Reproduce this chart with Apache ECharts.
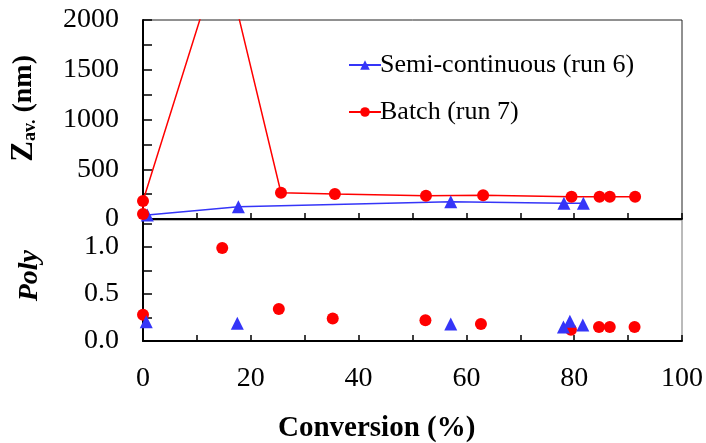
<!DOCTYPE html>
<html><head><meta charset="utf-8">
<script src="https://cdn.jsdelivr.net/npm/echarts@6/dist/echarts.min.js"></script>
<style>html,body{margin:0;padding:0;background:#fff}#c{width:706px;height:443px}</style>
</head><body><div id="c"></div>
<script>
// Top panel: average particle size Z_av (nm) vs conversion (%)
const semiZX = [0.8, 17.7, 57.1, 78.1, 81.7];
const semiZ  = [40, 124, 174, 158, 158];
const batchZX = [0, 0, 14.7, 25.6, 35.6, 52.5, 63.1, 79.5, 84.7, 86.6, 91.3];
const batchZ  = [50, 181, 2720, 264, 251, 234, 238, 224, 224, 224, 224];
// Bottom panel: polydispersity vs conversion (%)
const semiPolyX = [0.6, 17.5, 57.1, 78.0, 79.2, 81.6];
const semiPoly  = [0.205, 0.19, 0.18, 0.15, 0.21, 0.17];
const batchPolyX = [0, 14.7, 25.2, 35.2, 52.4, 62.7, 79.4, 84.6, 86.6, 91.2];
const batchPoly  = [0.28, 0.99, 0.34, 0.24, 0.22, 0.18, 0.12, 0.15, 0.15, 0.15];
const zTicks = [0, 500, 1000, 1500, 2000];
const polyTicks = [0.0, 0.5, 1.0];
const xTicks = [0, 20, 40, 60, 80, 100];
const seriesNames = ['Semi-continuous (run 6)', 'Batch (run 7)'];

const zip = (a, b) => a.map((v, i) => [v, b[i]]);
const FONT = 'Liberation Serif';
const BLUE = '#3535f8', RED = '#ff0000';

const chart = echarts.init(document.getElementById('c'), null, {renderer: 'canvas'});
const axisLbl = {fontFamily: FONT, fontSize: 28, color: '#000'};
chart.setOption({
  animation: false,
  backgroundColor: '#fff',
  grid: [
    {left: 143, right: 24, top: 20, height: 199, show: true, borderColor: '#222', borderWidth: 1, backgroundColor: 'transparent'},
    {left: 143, right: 24, top: 220, height: 121, show: true, borderColor: '#777', borderWidth: 1, backgroundColor: 'transparent'}
  ],
  xAxis: [
    {gridIndex: 0, type: 'value', min: 0, max: 100, interval: 10,
     axisLine: {lineStyle: {color: '#000', width: 2}},
     axisTick: {inside: true, length: 6, lineStyle: {color: '#000', width: 1.5}},
     axisLabel: {show: false}, splitLine: {show: false}},
    {gridIndex: 1, type: 'value', min: 0, max: 100, interval: 10,
     axisLine: {lineStyle: {color: '#000', width: 2}},
     axisTick: {inside: true, length: 6, lineStyle: {color: '#000', width: 1.5}},
     axisLabel: Object.assign({margin: 24, formatter: v => xTicks.includes(v) ? String(v) : ''}, axisLbl),
     splitLine: {show: false}}
  ],
  yAxis: [
    {gridIndex: 0, type: 'value', min: 0, max: 2000, interval: 250,
     axisLine: {lineStyle: {color: '#000', width: 2}},
     axisTick: {inside: true, length: 9, lineStyle: {color: '#000', width: 1.5}},
     axisLabel: Object.assign({margin: 24, formatter: v => zTicks.includes(v) ? String(v) : ''}, axisLbl),
     splitLine: {show: false}},
    {gridIndex: 1, type: 'value', min: 0, max: 1.287, interval: 0.25,
     axisLine: {lineStyle: {color: '#000', width: 2}},
     axisTick: {inside: true, length: 9, lineStyle: {color: '#000', width: 1.5}},
     axisLabel: Object.assign({margin: 24, formatter: v => {
       const m = polyTicks.find(t => Math.abs(t - v) < 1e-6);
       return m === undefined ? '' : m.toFixed(1);
     }}, axisLbl),
     splitLine: {show: false}}
  ],
  legend: {
    data: seriesNames, orient: 'vertical', left: 343, top: 47, itemGap: 21,
    itemWidth: 32, itemHeight: 12,
    textStyle: {fontFamily: FONT, fontSize: 26, color: '#000', padding: [0, 0, 0, -6]}
  },
  graphic: [
    {type: 'text', left: 8, top: 55, rotation: Math.PI / 2,
     style: {text: '{z|Z}{b|av.}{a| (nm)}', fill: '#000',
       rich: {z: {fontFamily: FONT, fontSize: 31, fontWeight: 'bold'},
              a: {fontFamily: FONT, fontSize: 28, fontWeight: 'bold'},
              b: {fontFamily: FONT, fontSize: 18, fontWeight: 'bold', verticalAlign: 'bottom', padding: [14, 0, 0, 0]}}}},
    {type: 'text', left: 16, top: 250, rotation: Math.PI / 2,
     style: {text: 'Poly', fill: '#000', fontFamily: FONT, fontSize: 28, fontWeight: 'bold', fontStyle: 'italic'}},
    {type: 'text', left: 278, top: 414,
     style: {text: 'Conversion (%)', fill: '#000', fontFamily: FONT, fontSize: 29, fontWeight: 'bold'}}
  ],
  series: [
    {name: seriesNames[0], type: 'line', xAxisIndex: 0, yAxisIndex: 0, data: zip(semiZX, semiZ),
     symbol: 'triangle', symbolSize: 13, color: BLUE, lineStyle: {width: 1.5, color: BLUE}, itemStyle: {color: BLUE}},
    {name: seriesNames[1], type: 'line', xAxisIndex: 0, yAxisIndex: 0, data: zip(batchZX, batchZ),
     symbol: 'circle', symbolSize: 12, color: RED, lineStyle: {width: 1.5, color: RED}, itemStyle: {color: RED}},
    {name: seriesNames[1], type: 'scatter', xAxisIndex: 1, yAxisIndex: 1, data: zip(batchPolyX, batchPoly),
     symbol: 'circle', symbolSize: 12, itemStyle: {color: RED, opacity: 1}},
    {name: seriesNames[0], type: 'scatter', xAxisIndex: 1, yAxisIndex: 1, data: zip(semiPolyX, semiPoly),
     symbol: 'triangle', symbolSize: 13, itemStyle: {color: BLUE, opacity: 1}}
  ]
});
</script></body></html>
